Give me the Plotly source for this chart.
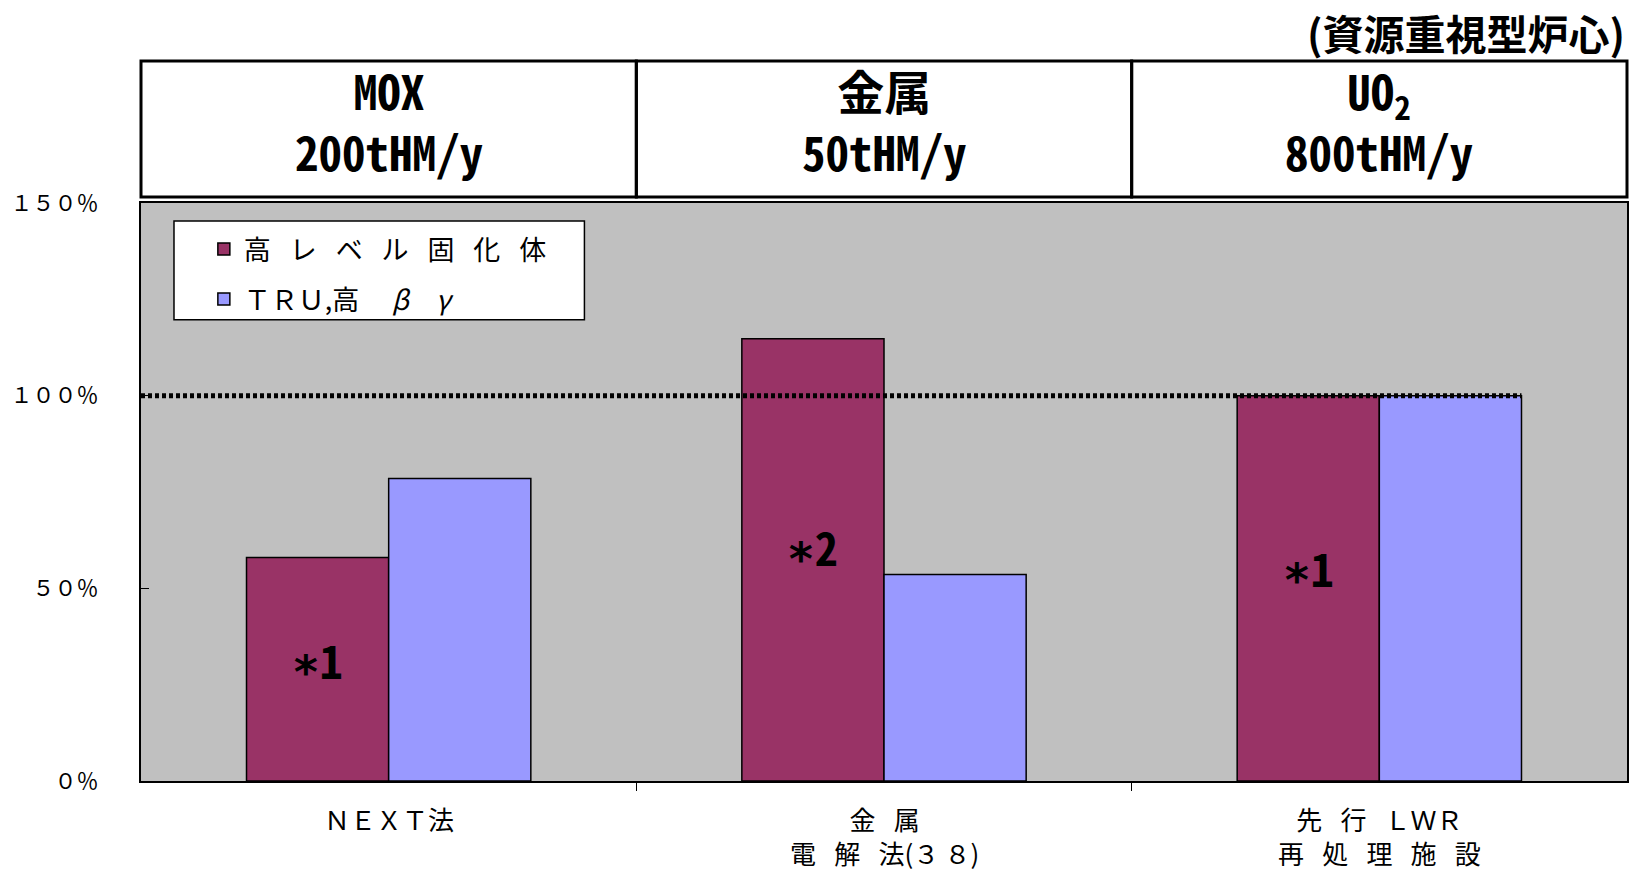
import plotly.graph_objects as go

# --- data -----------------------------------------------------------------
categories = ["NEXT法", "金属電解法(38)", "先行LWR再処理施設"]
hlw_values = [58.0, 114.8, 100.0]      # 高レベル固化体 (%)
tru_values = [78.5, 53.6, 100.0]       # TRU,高βγ (%)
SP = "\u2002\u2009"                    # letter spacing used in labels
series_names = [SP.join("高レベル固化体"),
                "ＴＲＵ,高\u3000\u2009<i>β</i>\u3000<i>γ</i>"]
category_labels = [
    ["ＮＥＸＴ法"],
    [SP.join("金属"), SP.join("電解法") + "(３\u2009８)"],
    [SP.join("先行") + SP + "ＬＷＲ", SP.join("再処理施設")],
]
header_lines = [
    ["MOX", "200tHM/y"],
    ["金属", "50tHM/y"],
    ["UO<sub>2</sub>", "800tHM/y"],
]
note_labels = ["∗1", "∗2", "∗1"]
note_levels = [31.7, 61.0, 55.6]
y_ticks = [0, 50, 100, 150]
y_tick_text = ["０％", "５０％", "１００％", "１５０％"]
reference_level = 100
subtitle = "(資源重視型炉心)"

# --- styling --------------------------------------------------------------
HLW_COLOR = "#993366"
TRU_COLOR = "#9999FF"
PLOT_BG = "#C0C0C0"
CJK = "Noto Sans CJK JP, Noto Sans, sans-serif"
MONO = "Noto Sans Mono CJK JP, Liberation Mono, Noto Sans CJK JP, monospace"
BARGAP = 0.426

xpos = list(range(len(categories)))

fig = go.Figure()
fig.add_trace(go.Bar(
    x=xpos, y=hlw_values, name=series_names[0], legendgroup="hlw",
    customdata=categories, hovertemplate="%{customdata}: %{y}%<extra></extra>",
    marker=dict(color=HLW_COLOR, line=dict(color="black", width=1.5)),
))
fig.add_trace(go.Bar(
    x=xpos, y=tru_values, name=series_names[1], legendgroup="tru",
    customdata=categories, hovertemplate="%{customdata}: %{y}%<extra></extra>",
    marker=dict(color=TRU_COLOR, line=dict(color="black", width=1.5)),
))

bar_w = (1 - BARGAP) / 2   # width of one bar in category units

shapes = [
    # legend frame
    dict(type="rect", xref="paper", yref="paper", x0=0.0222, x1=0.2984, y0=0.7978, y1=0.9689,
         fillcolor="white", line=dict(color="black", width=1.5), layer="above"),
    # 100 % reference line
    dict(type="line", xref="x", yref="y", x0=-0.5, x1=xpos[-1] + bar_w,
         y0=reference_level, y1=reference_level,
         line=dict(color="black", width=5, dash="4px,3px"), layer="above"),
]
# header boxes above each group
n = len(categories)
for i in range(n):
    shapes.append(dict(type="rect", xref="paper", yref="paper",
                       x0=i / n, x1=(i + 1) / n, y0=1.0104, y1=1.2455,
                       line=dict(color="black", width=3), fillcolor="rgba(0,0,0,0)"))

annotations = []
for i, lines in enumerate(header_lines):
    annotations.append(dict(xref="paper", yref="paper", x=(i + 0.5) / n, y=1.143,
                            text="<b>" + "<br>".join(lines) + "</b>", showarrow=False,
                            xanchor="center", yanchor="middle", align="center",
                            font=dict(family=MONO, size=47, color="black")))
annotations.append(dict(xref="paper", yref="paper", x=1.0, y=1.295, text="<b>" + subtitle + "</b>",
                        showarrow=False, xanchor="right", yanchor="middle",
                        font=dict(family=CJK, size=41, color="black")))
for i, lines in enumerate(category_labels):
    annotations.append(dict(xref="x", yref="paper", x=xpos[i], y=-0.030,
                            text="<br>".join(lines), showarrow=False,
                            xanchor="center", yanchor="top", align="center",
                            font=dict(family=CJK, size=26, color="black")))
for i, (lab, lvl) in enumerate(zip(note_labels, note_levels)):
    annotations.append(dict(xref="x", yref="y", x=xpos[i] - bar_w / 2, y=lvl,
                            text="<b>" + lab + "</b>", showarrow=False,
                            xanchor="center", yanchor="middle",
                            font=dict(family=MONO, size=46, color="black")))

fig.update_layout(
    width=1637, height=875,
    margin=dict(l=141, r=8, t=203, b=93.5, pad=0),
    paper_bgcolor="white", plot_bgcolor=PLOT_BG,
    barmode="group", bargap=BARGAP, bargroupgap=0,
    showlegend=True,
    legend=dict(x=0.0423, y=0.962, xanchor="left", yanchor="top",
                bgcolor="rgba(0,0,0,0)", borderwidth=0, tracegroupgap=12,
                font=dict(family=CJK, size=27, color="black")),
    xaxis=dict(range=[-0.5, n - 0.5], tickvals=[i + 0.5 for i in range(n - 1)],
               showline=True, mirror=True, linecolor="black", linewidth=2,
               ticks="outside", ticklen=8, tickcolor="black",
               showticklabels=False, showgrid=False, zeroline=False),
    yaxis=dict(range=[0, 150], tickvals=y_ticks, ticktext=y_tick_text,
               ticks="inside", ticklen=8, tickcolor="black",
               showline=True, mirror=True, linecolor="black", linewidth=2,
               showgrid=False, zeroline=False, ticklabelstandoff=36,
               tickfont=dict(family=CJK, size=22, color="black")),
    shapes=shapes, annotations=annotations,
)

fig.write_html("out.html")
